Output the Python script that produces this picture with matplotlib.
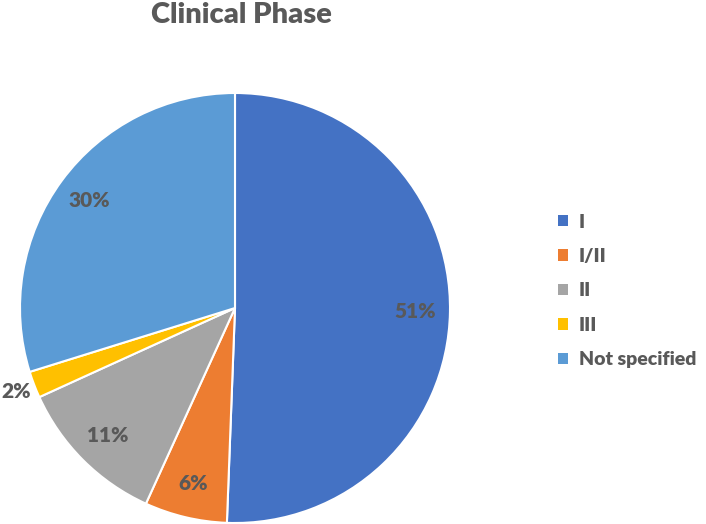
import numpy as np
import matplotlib.pyplot as plt
from matplotlib.patches import Patch

# Clinical phase shares (%)
phases = ['I', 'I/II', 'II', 'III', 'Not specified']
shares = [50.6, 6.2, 11.4, 2.0, 29.8]
colors = ['#4472C4', '#ED7D31', '#A5A5A5', '#FFC000', '#5B9BD5']

plt.rcParams['font.family'] = ['Lato', 'DejaVu Sans']
txt_col = '#595959'

fig = plt.figure(figsize=(7.06, 5.24), dpi=100, facecolor='white')
ax = fig.add_axes([20 / 706, 1 / 524, 430 / 706, 430 / 524])

wedges, texts, autotexts = ax.pie(
    shares, colors=colors, startangle=90, counterclock=False,
    autopct='%1.0f%%', pctdistance=0.84, radius=1,
    wedgeprops=dict(edgecolor='white', linewidth=1.5),
    textprops=dict(color=txt_col, fontsize=15, fontweight=800))

# small slice label goes outside
for w, t, v in zip(wedges, autotexts, shares):
    if v < 5:
        ang = np.deg2rad((w.theta1 + w.theta2) / 2)
        t.set_position((1.09 * np.cos(ang), 1.09 * np.sin(ang)))

ax.set_xlim(-1, 1)
ax.set_ylim(-1, 1)
ax.set_aspect('equal')

fig.text(241 / 706, 1 - 15 / 524, 'Clinical Phase', ha='center', va='center',
         fontsize=21, fontweight=800, color=txt_col)

handles = [Patch(facecolor=c, edgecolor='none') for c in colors]
fig.legend(handles, phases, loc='center left', bbox_to_anchor=(540 / 706, 1 - 291 / 524),
           frameon=False, handlelength=0.55, handleheight=0.55, handletextpad=0.55,
           labelspacing=0.9, prop=dict(size=14, weight=800), labelcolor=txt_col)

plt.savefig('out.png', dpi=100)
